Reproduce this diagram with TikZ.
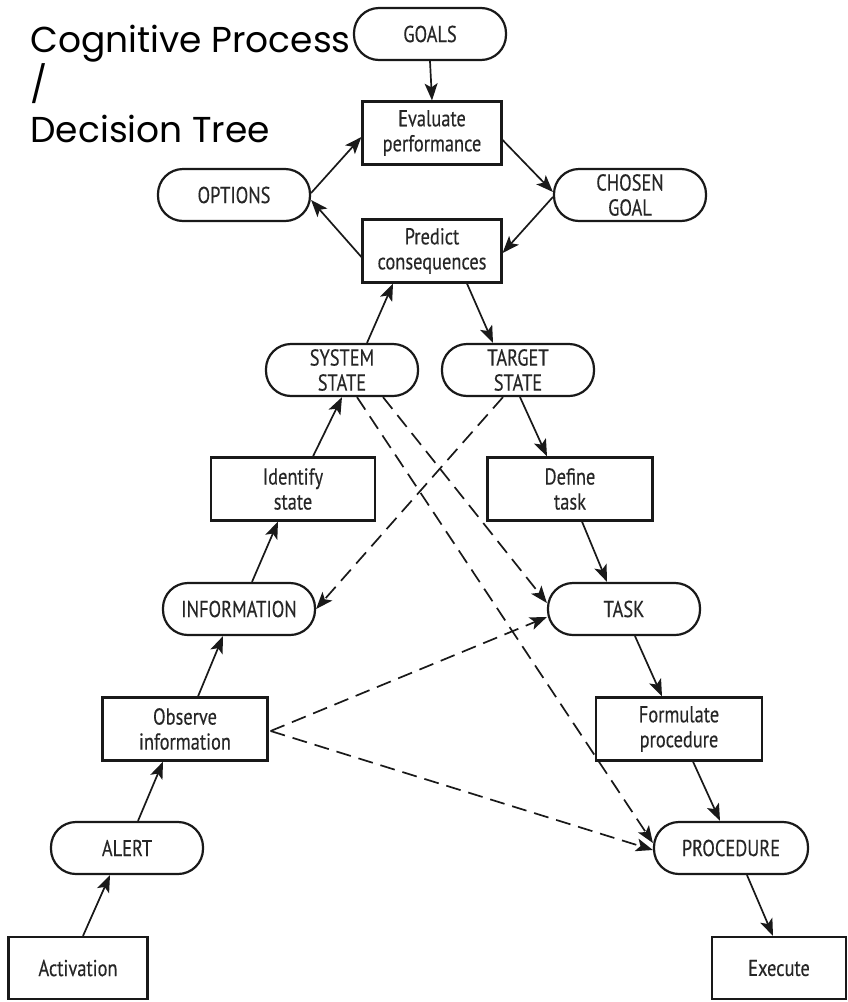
\documentclass[tikz,border=0pt]{standalone}
\usepackage{fontspec}
\setmainfont[FakeStretch=0.8,FakeBold=0.25]{PT Sans}
\newfontfamily\titlefont{Poppins}
\usetikzlibrary{arrows.meta,calc}
\begin{document}
\begin{tikzpicture}[x=1pt,y=-1pt,
  every node/.style={font=\fontsize{23}{25}\selectfont, text=black!85, align=center},
  boxnode/.style={draw=black!90, line width=2.2pt, rectangle, inner sep=0pt, minimum height=63pt},
  pill/.style={draw=black!90, line width=2.2pt, rectangle, rounded corners=25pt, inner sep=0pt, minimum width=152pt, minimum height=52pt},
  arr/.style={line width=1.7pt, draw=black!90, -{Stealth[length=17pt,width=13pt,inset=4pt]}},
  darr/.style={arr, dash pattern=on 15pt off 8pt},
  ttl/.style={anchor=base west, font=\titlefont\fontsize{36}{45}\selectfont, text=black, align=left}
]
\useasboundingbox (0,0) rectangle (848,1002);
\fill[white] (0,0) rectangle (848,1002);

% title
\node[ttl] (t1) at (27,52) {Cognitive Process};
\node[ttl] (t2) at (27,97) {/};
\node[ttl] (t3) at (27,142) {Decision Tree};

% nodes
\node[pill] (goals) at (430,34) {GOALS};
\node[boxnode, minimum width=139pt] (eval) at (432,133) {Evaluate\\performance};
\node[pill] (options) at (234,195) {OPTIONS};
\node[pill] (chosen) at (630,195) {CHOSEN\\GOAL};
\node[boxnode, minimum width=139pt] (pred) at (432,251) {Predict\\consequences};
\node[pill] (system) at (342,370) {SYSTEM\\STATE};
\node[pill] (target) at (518,370) {TARGET\\STATE};
\node[boxnode, minimum width=164pt] (ident) at (293,489) {Identify\\state};
\node[boxnode, minimum width=165pt] (define) at (570,489) {Define\\task};
\node[pill] (info) at (239,609) {INFORMATION};
\node[pill] (task) at (624,609) {TASK};
\node[boxnode, minimum width=165pt] (observe) at (185,729) {Observe\\information};
\node[boxnode, minimum width=166pt] (formulate) at (679,729) {Formulate\\procedure};
\node[pill] (alert) at (127,848) {ALERT};
\node[pill, minimum width=154pt] (proc) at (731,848) {PROCEDURE};
\node[boxnode, minimum width=139pt, minimum height=62pt] (act) at (78,968) {Activation};
\node[boxnode, minimum width=134pt, minimum height=62pt] (exec) at (779,968) {Execute};

% solid connectors
\draw[arr] (goals.south) -- (eval.north);
\draw[arr] ([yshift=-7pt]eval.east) -- ([yshift=3pt]chosen.west);
\draw[arr] ([yshift=-2pt]chosen.west) -- ([yshift=-2pt]pred.east);
\draw[arr] ([yshift=-6pt]pred.west) -- ([yshift=-5pt]options.east);
\draw[arr] ([yshift=2pt]options.east) -- ([yshift=-4pt]eval.west);
\draw[arr] ([xshift=35pt]pred.south) -- ([xshift=-25pt]target.north);
\draw[arr] ([xshift=25pt]system.north) -- ([xshift=-39pt]pred.south);
\draw[arr] ([xshift=20pt]ident.north) -- (system.south);
\draw[arr] ([xshift=13pt]info.north) -- ([xshift=-15pt]ident.south);
\draw[arr] ([xshift=13pt]observe.north) -- ([xshift=-16pt]info.south);
\draw[arr] ([xshift=11pt]alert.north) -- ([xshift=-22pt]observe.south);
\draw[arr] ([xshift=5pt]act.north) -- ([xshift=-17pt]alert.south);
\draw[arr] ([xshift=2pt]target.south) -- ([xshift=-23pt]define.north);
\draw[arr] ([xshift=12pt]define.south) -- ([xshift=-17pt]task.north);
\draw[arr] ([xshift=11pt]task.south) -- ([xshift=-17pt]formulate.north);
\draw[arr] ([xshift=14pt]formulate.south) -- ([xshift=-11pt]proc.north);
\draw[arr] ([xshift=16pt]proc.south) -- ([xshift=-6pt]exec.north);

% dashed connectors
\draw[darr] ([xshift=-15pt]target.south) -- (info.east);
\draw[darr] ([xshift=15pt]system.south) -- ([yshift=5pt]proc.west);
\draw[darr] ([xshift=41pt]system.south) -- ([yshift=6pt]task.west);
\coordinate (obtip) at ([xshift=2pt,yshift=-2pt]observe.east);
\draw[darr] (obtip) -- ([yshift=-8pt]task.west);
\draw[darr] (obtip) -- ([yshift=-2pt]proc.west);
\end{tikzpicture}
\end{document}
